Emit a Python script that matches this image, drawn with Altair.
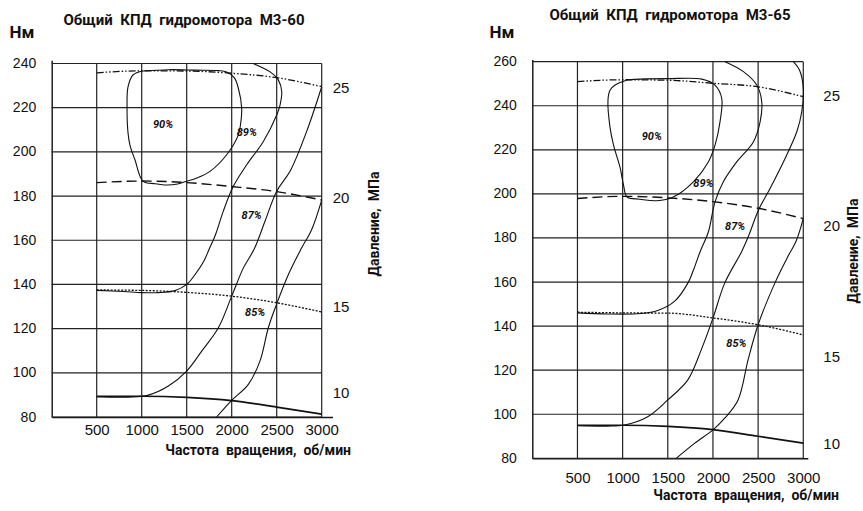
import altair as alt
import pandas as pd

# ---------------- data ----------------
RPM_TICKS = [500, 1000, 1500, 2000, 2500, 3000]
L_NM_TICKS = [80, 100, 120, 140, 160, 180, 200, 220, 240]
R_NM_TICKS = [80, 100, 120, 140, 160, 180, 200, 220, 240, 260]

PRESS_RPM = [500, 1000, 1500, 2000, 2500, 3000]

# left panel  (M3-60)
L_P25 = [235.8, 236.7, 236.6, 235.6, 233.6, 229.5]
L_P20 = [186.1, 186.8, 186.1, 184.3, 182.0, 178.2]
L_P15 = [137.5, 137.3, 136.4, 134.7, 131.7, 127.5]
L_P10 = [89.3, 89.4, 88.9, 87.4, 84.5, 81.3]

L_90_RPM = [1014, 1300, 1600, 1850, 1944, 2030, 2074, 2111, 2100, 2074, 1944, 1759,
            1600, 1500, 1400, 1281, 1150, 1014, 926, 870, 848, 837, 848, 903, 1014]
L_90_NM = [236.6, 237.2, 237.0, 236.8, 236.2, 233.5, 228.8, 219.8, 213.0, 207.7, 198.7, 191.2,
           188.0, 186.7, 185.5, 185.0, 185.6, 186.8, 196.3, 203.0, 208.6, 220.3, 229.4, 234.8, 236.6]

L_89_RPM = [2240, 2426, 2518, 2556, 2537, 2500, 2352, 2167, 2018, 1907, 1820, 1750, 1690,
            1593, 1500, 1370, 1185, 1000, 800, 500]
L_89_NM = [240.0, 236.2, 232.6, 227.2, 221.2, 216.7, 204.7, 194.2, 184.4, 173.2, 162.5, 156.0, 150.5,
           144.5, 140.0, 137.2, 136.3, 136.3, 136.8, 137.3]

L_87_RPM = [3000, 2833, 2648, 2500, 2370, 2250, 2130, 2000, 1852, 1667, 1500, 1296, 1074, 852, 500]
L_87_NM = [229.5, 209.3, 191.2, 182.2, 168.6, 156.0, 147.5, 134.7, 120.4, 109.8, 100.8, 94.0, 89.9, 89.0, 89.2]

L_85_RPM = [3000, 2889, 2770, 2630, 2500, 2407, 2315, 2185, 2000, 1833]
L_85_NM = [178.2, 164.9, 156.0, 144.5, 131.2, 120.4, 105.4, 94.8, 87.5, 80.0]

# right panel (M3-65)
R_P25 = [251.0, 251.8, 251.6, 250.2, 248.6, 244.1]
R_P20 = [197.9, 198.9, 198.2, 196.5, 193.5, 188.8]
R_P15 = [146.3, 146.0, 145.9, 143.7, 140.6, 136.0]
R_P10 = [95.0, 95.0, 94.5, 93.0, 90.0, 86.9]

R_90_RPM = [1049, 1192, 1500, 1876, 2023, 2097, 2078, 2023, 1949, 1783, 1561, 1378, 1192,
            1049, 1010, 971, 900, 860, 838, 860, 916, 1049]
R_90_NM = [251.7, 252.1, 252.3, 252.1, 249.4, 243.4, 232.7, 222.1, 214.5, 205.5, 198.6, 196.9, 197.6,
           198.6, 204.0, 212.1, 222.0, 230.3, 242.6, 247.0, 249.4, 251.7]

R_89_RPM = [2134, 2337, 2485, 2540, 2522, 2447, 2263, 2115, 2023, 1949, 1860, 1780, 1722,
            1574, 1389, 1204, 833, 500]
R_89_NM = [260.0, 255.5, 249.4, 241.8, 232.7, 223.6, 214.5, 205.5, 196.4, 182.7, 174.0, 165.0, 159.5,
           151.2, 147.1, 145.7, 145.5, 146.0]

R_87_RPM = [2890, 2960, 3000, 2983, 2928, 2780, 2632, 2503, 2400, 2320, 2130, 2000, 1870, 1722,
            1500, 1278, 1019, 833, 500]
R_87_NM = [260.0, 256.0, 248.0, 237.3, 228.2, 214.5, 202.5, 192.6, 181.5, 174.0, 159.5, 143.6, 129.2, 115.6,
           106.5, 98.9, 95.1, 94.6, 94.8]

R_85_RPM = [3000, 2920, 2835, 2685, 2500, 2389, 2278, 2130, 2000, 1796, 1593]
R_85_NM = [188.8, 178.5, 172.0, 159.5, 140.6, 124.7, 106.5, 98.2, 92.9, 86.8, 80.0]

EFF_LABELS = ["90%", "89%", "87%", "85%"]
L_EFF_RPM = [1237, 2167, 2222, 2260]
L_EFF_NM = [212.2, 208.5, 171.0, 127.1]
R_EFF_RPM = [1322, 1894, 2245, 2259]
R_EFF_NM = [225.9, 204.7, 185.0, 132.0]

PRESSURE_LABELS = ["25", "20", "15", "10"]
L_PLAB_NM = [228.9, 179.1, 129.8, 91.0]
R_PLAB_NM = [244.4, 185.3, 126.2, 86.7]

SP = " \u00a0"
TITLES = ["Общий" + SP + "КПД" + SP + "гидромотора" + SP + "М3-60",
          "Общий" + SP + "КПД" + SP + "гидромотора" + SP + "М3-65"]
X_TITLE = "Частота" + SP + "вращения," + SP + "об/мин"
Y_TITLE = "Нм"
P_TITLE = "Давление," + SP + "МПа"

# ---------------- styling ----------------
NARROW = "Roboto, 'Liberation Sans Narrow', sans-serif"
SANS = "'Liberation Sans', Arial, sans-serif"
INK = "#111111"


def curves_frame(curves):
    rows = []
    for name, xs, ys in curves:
        for i, (a, b) in enumerate(zip(xs, ys)):
            rows.append({"curve": name, "rpm": a, "nm": b, "i": i})
    return pd.DataFrame(rows)


def panel(cfg):
    xs = alt.Scale(domain=cfg["xdom"], range=cfg["xrange"], zero=False, nice=False)
    ys = alt.Scale(domain=cfg["ydom"], range=cfg["yrange"], zero=False, nice=False)
    xaxis = alt.Axis(orient="bottom", offset=cfg["xoff"], values=RPM_TICKS, title=None, format="d",
                     grid=False, ticks=False, labelPadding=cfg["xpad"], labelFont=SANS,
                     labelFontSize=15, labelColor=INK, domainColor=INK, domainWidth=1.4,
                     labelOverlap=False, labelFlush=False)
    yaxis = alt.Axis(orient="left", offset=cfg["yoff"], values=cfg["nmticks"], title=None, format="d",
                     grid=False, ticks=False, labelPadding=16, labelFont=SANS,
                     labelFontSize=14, labelColor=INK, domainColor=INK, domainWidth=1.4,
                     labelOverlap=False, labelFlush=False)

    def X(field=None, datum=None):
        if datum is not None:
            return alt.X(datum=datum, type="quantitative", scale=xs, axis=xaxis)
        return alt.X(field, type="quantitative", scale=xs, axis=xaxis)

    def Y(field=None, datum=None):
        if datum is not None:
            return alt.Y(datum=datum, type="quantitative", scale=ys, axis=yaxis)
        return alt.Y(field, type="quantitative", scale=ys, axis=yaxis)

    nmt = cfg["nmticks"]
    hgrid = alt.Chart(pd.DataFrame({"nm": nmt})).mark_rule(color="#222", strokeWidth=1.2).encode(
        y=Y("nm"), x=X(datum=RPM_TICKS[0] - 500), x2=alt.X2(datum=RPM_TICKS[-1]))
    vgrid = alt.Chart(pd.DataFrame({"rpm": RPM_TICKS})).mark_rule(color="#222", strokeWidth=1.2).encode(
        x=X("rpm"), y=Y(datum=nmt[0]), y2=alt.Y2(datum=nmt[-1]))

    press = curves_frame([
        ("p25", PRESS_RPM, cfg["p25"]),
        ("p20", PRESS_RPM, cfg["p20"]),
        ("p15", PRESS_RPM, cfg["p15"]),
        ("p10", PRESS_RPM, cfg["p10"]),
    ])
    styles = {
        "p25": dict(strokeDash=[7, 2, 1.5, 2, 1.5, 2], strokeWidth=1.3),
        "p20": dict(strokeDash=[10, 5], strokeWidth=1.4),
        "p15": dict(strokeDash=[2, 1.5], strokeWidth=1.3),
        "p10": dict(strokeWidth=1.7),
    }
    plines = []
    for key, st in styles.items():
        plines.append(
            alt.Chart(press).transform_filter(alt.datum.curve == key)
            .mark_line(color=INK, interpolate="monotone", **st)
            .encode(x=X("rpm"), y=Y("nm"), order="i:Q")
        )

    eff = curves_frame([
        ("e90", cfg["e90"][0], cfg["e90"][1]),
        ("e89", cfg["e89"][0], cfg["e89"][1]),
        ("e87", cfg["e87"][0], cfg["e87"][1]),
        ("e85", cfg["e85"][0], cfg["e85"][1]),
    ])
    elines = alt.Chart(eff).mark_line(color=INK, strokeWidth=1.1, interpolate="catmull-rom").encode(
        x=X("rpm"), y=Y("nm"), detail="curve:N", order="i:Q")

    elab = alt.Chart(pd.DataFrame({"t": EFF_LABELS, "rpm": cfg["lab_rpm"], "nm": cfg["lab_nm"]})).mark_text(
        font=NARROW, fontSize=11, fontStyle="italic", fontWeight="bold", color=INK,
        align="center", baseline="middle").encode(x=X("rpm"), y=Y("nm"), text="t:N")

    plab = alt.Chart(pd.DataFrame({"t": PRESSURE_LABELS, "nm": cfg["plab_nm"]})).mark_text(
        font=SANS, fontSize=15, color=INK, align="left", baseline="middle", dx=cfg["plab_dx"]).encode(
        x=X(datum=RPM_TICKS[-1]), y=Y("nm"), text="t:N")

    title = alt.Chart(pd.DataFrame({"t": [cfg["title"]]})).mark_text(
        font=NARROW, fontSize=15, fontWeight="bold", color=INK, align="center", baseline="middle").encode(
        text="t:N", x=alt.value(cfg["title_xy"][0]), y=alt.value(cfg["title_xy"][1]))
    nm = alt.Chart(pd.DataFrame({"t": [Y_TITLE]})).mark_text(
        font=NARROW, fontSize=17, fontWeight="bold", color=INK, align="center", baseline="middle").encode(
        text="t:N", x=alt.value(cfg["nm_xy"][0]), y=alt.value(cfg["nm_xy"][1]))
    xt = alt.Chart(pd.DataFrame({"t": [X_TITLE]})).mark_text(
        font=NARROW, fontSize=14, fontWeight="bold", color=INK, align="right", baseline="middle").encode(
        text="t:N", x=alt.value(cfg["xt_xy"][0]), y=alt.value(cfg["xt_xy"][1]))
    pt = alt.Chart(pd.DataFrame({"t": [P_TITLE]})).mark_text(
        font=NARROW, fontSize=14, fontWeight="bold", color=INK, align="center", baseline="middle",
        angle=270).encode(
        text="t:N", x=alt.value(cfg["pt_xy"][0]), y=alt.value(cfg["pt_xy"][1]))

    return alt.layer(hgrid, vgrid, *plines, elines, elab, plab, title, nm, xt, pt)


left_cfg = dict(
    xdom=[0, 3120], xrange=[51.7, 332.5], ydom=[80, 241.5], yrange=[417, 60.2],
    xoff=-94, yoff=-51.7, xpad=5, nmticks=L_NM_TICKS,
    p25=L_P25, p20=L_P20, p15=L_P15, p10=L_P10,
    e90=(L_90_RPM, L_90_NM), e89=(L_89_RPM, L_89_NM), e87=(L_87_RPM, L_87_NM), e85=(L_85_RPM, L_85_NM),
    lab_rpm=L_EFF_RPM, lab_nm=L_EFF_NM, plab_nm=L_PLAB_NM, plab_dx=11,
    title=TITLES[0], title_xy=(184, 20), nm_xy=(22, 33), xt_xy=(351, 451), pt_xy=(375, 224),
)
right_cfg = dict(
    xdom=[0, 3050], xrange=[532.3, 807.8], ydom=[80, 261], yrange=[458.3, 59.5],
    xoff=-52.7, yoff=-532.3, xpad=12, nmticks=R_NM_TICKS,
    p25=R_P25, p20=R_P20, p15=R_P15, p10=R_P10,
    e90=(R_90_RPM, R_90_NM), e89=(R_89_RPM, R_89_NM), e87=(R_87_RPM, R_87_NM), e85=(R_85_RPM, R_85_NM),
    lab_rpm=R_EFF_RPM, lab_nm=R_EFF_NM, plab_nm=R_PLAB_NM, plab_dx=20,
    title=TITLES[1], title_xy=(670, 15), nm_xy=(502, 33), xt_xy=(839, 496), pt_xy=(854, 251),
)

chart = (
    alt.layer(panel(left_cfg), panel(right_cfg))
    .resolve_scale(x="independent", y="independent")
    .properties(width=863, height=511, autosize="none", padding=0, background="white")
    .configure_view(stroke=None)
)

chart.save("out.html", embed_options={"renderer": "svg", "actions": False})
